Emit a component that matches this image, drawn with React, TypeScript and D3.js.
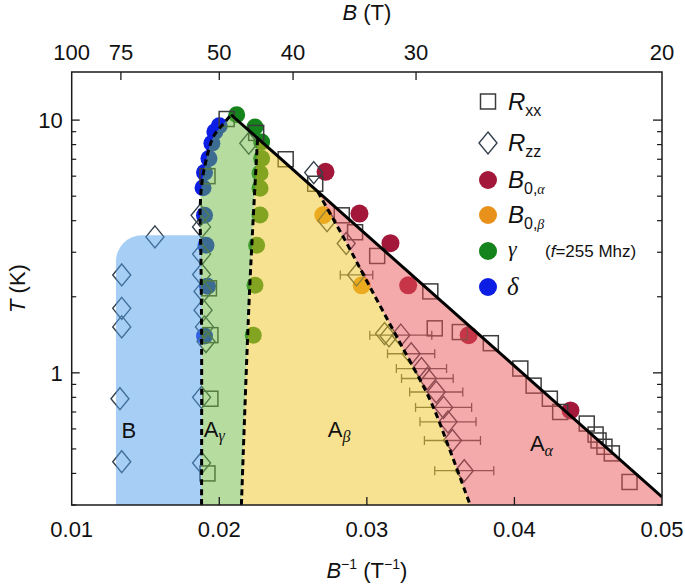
import React from "react";
import * as d3 from "d3";

// ---------- data ----------
const xTickValues = [0.01, 0.02, 0.03, 0.04, 0.05];
const xTickLabels = ["0.01", "0.02", "0.03", "0.04", "0.05"];
const topTickB = [100, 75, 50, 40, 30, 20];
const yMajorTicks = [1, 10];
const yMinorTicks = [0.3, 0.4, 0.5, 0.6, 0.7, 0.8, 0.9, 2, 3, 4, 5, 6, 7, 8, 9];

// R_xx (open squares): [1/B, T]
const rxxData: [number, number][] = [
  [0.0205, 10.1], [0.0225, 8.9], [0.0245, 7.0], [0.0265, 5.6], [0.0283, 4.2],
  [0.0292, 3.6], [0.0307, 2.9], [0.0343, 2.1], [0.0346, 1.5], [0.0363, 1.45],
  [0.0384, 1.31], [0.0404, 1.04], [0.0413, 0.89], [0.0424, 0.79], [0.0431, 0.70],
  [0.0449, 0.63], [0.0455, 0.57], [0.0457, 0.54], [0.0461, 0.51], [0.0466, 0.48],
  [0.0478, 0.37],
  [0.0192, 6.0], [0.0193, 2.16], [0.0194, 1.41], [0.0194, 0.79], [0.0192, 0.40],
];

// R_zz (open diamonds): [1/B, T, horizontal error]
const rzzData: [number, number, number][] = [
  [0.01564, 3.45, 0], [0.01339, 2.44, 0], [0.01339, 1.8, 0], [0.01339, 1.52, 0],
  [0.01327, 0.79, 0], [0.01339, 0.445, 0],
  [0.0187, 4.2, 0], [0.0188, 3.78, 0], [0.0188, 2.95, 0], [0.0188, 2.45, 0],
  [0.0189, 2.1, 0], [0.0189, 1.77, 0], [0.019, 1.52, 0], [0.0191, 1.33, 0],
  [0.0188, 0.8, 0], [0.0188, 0.44, 0],
  [0.022, 8.1, 0],
  [0.0264, 6.2, 0], [0.0273, 4.0, 0], [0.0286, 3.25, 0],
  [0.0293, 2.44, 0.0011], [0.0312, 1.43, 0], [0.0315, 1.4, 0], [0.0323, 1.41, 0.0021],
  [0.033, 1.19, 0.0016], [0.0337, 1.04, 0.0017], [0.0341, 0.95, 0.00175],
  [0.0347, 0.84, 0.0018], [0.0352, 0.73, 0.0019], [0.0355, 0.64, 0.0019],
  [0.0358, 0.54, 0.0019], [0.0366, 0.41, 0.002],
];

const b0AlphaData: [number, number][] = [
  [0.0272, 6.24], [0.0295, 4.27], [0.0316, 3.26], [0.0328, 2.22], [0.0369, 1.41], [0.0438, 0.71],
];
const b0BetaData: [number, number][] = [[0.02705, 4.21], [0.02965, 2.22]];
const gammaData: [number, number][] = [
  [0.02118, 10.5], [0.02242, 9.4], [0.02287, 8.2], [0.02287, 7.05], [0.02276, 6.16],
  [0.02276, 5.37], [0.02276, 4.21], [0.02253, 3.2], [0.02242, 2.22], [0.0223, 1.41],
];
const deltaData: [number, number][] = [
  [0.02, 9.5], [0.0197, 9.0], [0.0195, 8.1], [0.0193, 7.05], [0.019, 6.2],
  [0.0189, 5.4], [0.019, 4.2], [0.0191, 3.2], [0.0192, 2.2], [0.019, 1.4],
];

// phase boundaries
const deltaBoundary: [number, number][] = [
  [0.0188, 0.3], [0.0188, 1.5], [0.01875, 3.0], [0.0187, 4.3], [0.0188, 5.5],
  [0.019, 6.5], [0.0196, 8.6], [0.0203, 9.7], [0.0208, 10.5],
];
const gammaBoundary: [number, number][] = [[0.0215, 0.3], [0.02205, 2.1], [0.0226, 8.5]];
const betaBoundary: [number, number][] = [
  [0.02668, 5.2], [0.02852, 3.35], [0.03008, 2.26], [0.03205, 1.38],
  [0.03429, 0.78], [0.03563, 0.494], [0.037, 0.3],
];
const alphaLine: [number, number][] = [[0.0208, 10.5], [0.05, 0.323]];
const bRegionV = [0.013, 0.0188];
const bRegionTopT = 3.5;

// ---------- styles ----------
const SANS = "'Liberation Sans', Arial, Helvetica, sans-serif";
const SERIF = "'Liberation Serif', 'Times New Roman', serif";
const C_ALPHA = "#a3173a";
const C_BETA = "#e8911b";
const C_GAMMA = "#15831c";
const C_DELTA = "#0c1ee3";
const SQ_STROKE = "#3c3c3c";
const DI_STROKE = "#34404c";

export default function App() {
  const W = 685, H = 586;
  const x = d3.scaleLinear().domain([0.01, 0.05]).range([71.7, 662]);
  const y = d3.scaleLog().domain([0.3, 15.5]).range([505, 72]);
  const [x0, x1] = x.range();
  const [yB, yT] = y.range();

  const P = (d: [number, number]): [number, number] => [x(d[0]), y(d[1])];
  const curve = d3.line<[number, number]>().x(d => d[0]).y(d => d[1]).curve(d3.curveCatmullRom.alpha(0.5));
  const straight = d3.line<[number, number]>().x(d => d[0]).y(d => d[1]);

  const alphaT = (v: number) => {
    const [a, b] = alphaLine;
    const la = Math.log10(a[1]), lb = Math.log10(b[1]);
    return Math.pow(10, la + (lb - la) * (v - a[0]) / (b[0] - a[0]));
  };

  const deltaPx = deltaBoundary.map(P);
  const gammaPx = gammaBoundary.map(P);
  const betaPx = betaBoundary.map(P);
  const toL = (s: string) => s.replace(/^M/, "L");

  const greenPath =
    curve(deltaPx)! +
    "L" + P([gammaBoundary[2][0], alphaT(gammaBoundary[2][0])]).join(",") +
    toL(curve(gammaPx.slice().reverse())!) + "Z";
  const yellowPath =
    curve(gammaPx)! +
    "L" + P([betaBoundary[0][0], alphaT(betaBoundary[0][0])]).join(",") +
    toL(curve(betaPx)!) + "Z";
  const redPath =
    curve(betaPx)! +
    "L" + P([0.05, 0.3]).join(",") +
    "L" + P([0.05, alphaT(0.05)]).join(",") + "Z";
  const r = 26;
  const bx0 = x(bRegionV[0]), bx1 = x(bRegionV[1]), byT = y(bRegionTopT);
  const bluePath = `M${bx0},${yB}V${byT + r}A${r},${r} 0 0 1 ${bx0 + r},${byT}H${bx1}V${yB}Z`;

  const sq = 15;
  const diamond = (cx: number, cy: number) =>
    `M${cx},${cy - 11}L${cx + 9},${cy}L${cx},${cy + 11}L${cx - 9},${cy}Z`;

  const tickFont = 22;

  return (
    <svg width={W} height={H} style={{ position: "absolute", left: 0, top: 0, background: "#fff" }}
      fontFamily={SANS}>
      <rect x={0} y={0} width={W} height={H} fill="#fff" />
      <defs>
        <clipPath id="plotclip">
          <rect x={x0} y={yT} width={x1 - x0} height={yB - yT} />
        </clipPath>
      </defs>

      <g clipPath="url(#plotclip)">
        {/* error bars */}
        {rzzData.filter(d => d[2] > 0).map((d, i) => {
          const cy = y(d[1]);
          const xa = x(d[0] - d[2]), xb = x(d[0] + d[2]);
          return (
            <g key={"e" + i} stroke="#505050" strokeWidth={1.3}>
              <line x1={xa} x2={xb} y1={cy} y2={cy} />
              <line x1={xa} x2={xa} y1={cy - 4.5} y2={cy + 4.5} />
              <line x1={xb} x2={xb} y1={cy - 4.5} y2={cy + 4.5} />
            </g>
          );
        })}
        {/* filled circles */}
        {gammaData.map((d, i) => <circle key={"g" + i} cx={x(d[0])} cy={y(d[1])} r={8.5} fill={C_GAMMA} />)}
        {deltaData.map((d, i) => <circle key={"d" + i} cx={x(d[0])} cy={y(d[1])} r={8.5} fill={C_DELTA} />)}
        {b0AlphaData.map((d, i) => <circle key={"a" + i} cx={x(d[0])} cy={y(d[1])} r={9} fill={C_ALPHA} />)}
        {b0BetaData.map((d, i) => <circle key={"b" + i} cx={x(d[0])} cy={y(d[1])} r={9} fill={C_BETA} />)}
        {/* open markers */}
        {rxxData.map((d, i) => (
          <rect key={"s" + i} x={x(d[0]) - sq / 2} y={y(d[1]) - sq / 2} width={sq} height={sq}
            fill="none" stroke={SQ_STROKE} strokeWidth={1.5} />
        ))}
        {rzzData.map((d, i) => (
          <path key={"z" + i} d={diamond(x(d[0]), y(d[1]))} fill="none" stroke={DI_STROKE} strokeWidth={1.4} />
        ))}

        {/* translucent phase regions over the data */}
        <path d={bluePath} fill="#4f9feb" fillOpacity={0.5} />
        <path d={greenPath} fill="#6db941" fillOpacity={0.5} />
        <path d={yellowPath} fill="#efc523" fillOpacity={0.5} />
        <path d={redPath} fill="#e95555" fillOpacity={0.5} />

        {/* boundaries */}
        <path d={straight(alphaLine.map(P))!} fill="none" stroke="#000" strokeWidth={3} />
        <path d={curve(deltaPx)!} fill="none" stroke="#000" strokeWidth={3} strokeDasharray="6 4" />
        <path d={curve(gammaPx)!} fill="none" stroke="#000" strokeWidth={3} strokeDasharray="6 4" />
        <path d={curve(betaPx)!} fill="none" stroke="#000" strokeWidth={3} strokeDasharray="6 4" />
      </g>

      {/* region labels */}
      <g fontSize={22} fill="#111">
        <text x={x(0.01388)} y={y(0.6) + 9} textAnchor="middle">B</text>
        <text x={x(0.01895)} y={y(0.6) + 8}>A<tspan fontFamily={SERIF} fontStyle="italic" fontSize={16} dy={4}>γ</tspan></text>
        <text x={x(0.02735)} y={y(0.6) + 8}>A<tspan fontFamily={SERIF} fontStyle="italic" fontSize={16} dy={5}>β</tspan></text>
        <text x={x(0.04105)} y={y(0.53) + 8}>A<tspan fontFamily={SERIF} fontStyle="italic" fontSize={16} dy={5}>α</tspan></text>
      </g>

      {/* axes frame */}
      <rect x={x0} y={yT} width={x1 - x0} height={yB - yT} fill="none" stroke="#1a1a1a" strokeWidth={1.5} />

      {/* left & right ticks */}
      {yMajorTicks.map(t => (
        <g key={"ym" + t} stroke="#1a1a1a" strokeWidth={1.3}>
          <line x1={x0} x2={x0 + 8} y1={y(t)} y2={y(t)} />
          <line x1={x1} x2={x1 - 9} y1={y(t)} y2={y(t)} />
        </g>
      ))}
      {yMinorTicks.map(t => (
        <g key={"yn" + t} stroke="#1a1a1a" strokeWidth={1.2}>
          <line x1={x0} x2={x0 + 4.5} y1={y(t)} y2={y(t)} />
          <line x1={x1} x2={x1 - 5} y1={y(t)} y2={y(t)} />
        </g>
      ))}
      {yMajorTicks.map(t => (
        <text key={"yl" + t} x={x0 - 9} y={y(t) + 8} textAnchor="end" fontSize={tickFont} fill="#111">{t}</text>
      ))}

      {/* bottom ticks */}
      {xTickValues.map((v, i) => (
        <g key={"xt" + v}>
          {i > 0 && i < xTickValues.length - 1 &&
            <line x1={x(v)} x2={x(v)} y1={yB} y2={yB - 8} stroke="#1a1a1a" strokeWidth={1.3} />}
          <text x={x(v)} y={yB + 32} textAnchor="middle" fontSize={tickFont} fill="#111">{xTickLabels[i]}</text>
        </g>
      ))}

      {/* top B axis */}
      {topTickB.map((b, i) => (
        <g key={"tb" + b}>
          {i > 0 && i < topTickB.length - 1 &&
            <line x1={x(1 / b)} x2={x(1 / b)} y1={yT} y2={yT + 8} stroke="#1a1a1a" strokeWidth={1.3} />}
          <text x={x(1 / b)} y={yT - 12} textAnchor="middle" fontSize={tickFont} fill="#111">{b}</text>
        </g>
      ))}

      {/* axis titles */}
      <text x={(x0 + x1) / 2} y={20} textAnchor="middle" fontSize={22} fill="#111">
        <tspan fontStyle="italic">B</tspan> (T)
      </text>
      <text x={(x0 + x1) / 2} y={578} textAnchor="middle" fontSize={22} fill="#111">
        <tspan fontStyle="italic">B</tspan><tspan fontSize={14} dy={-9}>−1</tspan><tspan dy={9}> (T</tspan><tspan fontSize={14} dy={-9}>−1</tspan><tspan dy={9}>)</tspan>
      </text>
      <text transform={`translate(25,${(yT + yB) / 2}) rotate(-90)`} textAnchor="middle" fontSize={22} fill="#111">
        <tspan fontStyle="italic">T</tspan> (K)
      </text>

      {/* legend */}
      <g fill="#111">
        <rect x={488 - 7.5} y={101.5 - 7.5} width={15} height={15} fill="none" stroke={SQ_STROKE} strokeWidth={1.5} />
        <text x={508} y={110} fontSize={24}><tspan fontStyle="italic">R</tspan><tspan fontSize={16} dy={6}>xx</tspan></text>

        <path d={diamond(488, 143)} fill="none" stroke={DI_STROKE} strokeWidth={1.4} />
        <text x={508} y={151} fontSize={24}><tspan fontStyle="italic">R</tspan><tspan fontSize={16} dy={6}>zz</tspan></text>

        <circle cx={488} cy={180} r={9} fill={C_ALPHA} />
        <text x={508} y={188} fontSize={24}><tspan fontStyle="italic">B</tspan><tspan fontSize={16} dy={6}>0,</tspan><tspan fontFamily={SERIF} fontStyle="italic" fontSize={14}>α</tspan></text>

        <circle cx={488} cy={215} r={9} fill={C_BETA} />
        <text x={508} y={223} fontSize={24}><tspan fontStyle="italic">B</tspan><tspan fontSize={16} dy={6}>0,</tspan><tspan fontFamily={SERIF} fontStyle="italic" fontSize={14}>β</tspan></text>

        <circle cx={488} cy={251} r={9} fill={C_GAMMA} />
        <text x={508} y={256} fontSize={22} fontFamily={SERIF} fontStyle="italic">γ</text>
        <text x={545} y={257} fontSize={17}>(<tspan fontStyle="italic">f</tspan>=255 Mhz)</text>

        <circle cx={488} cy={287} r={9} fill={C_DELTA} />
        <text x={507} y={295} fontSize={25} fontFamily={SERIF} fontStyle="italic">δ</text>
      </g>
    </svg>
  );
}
